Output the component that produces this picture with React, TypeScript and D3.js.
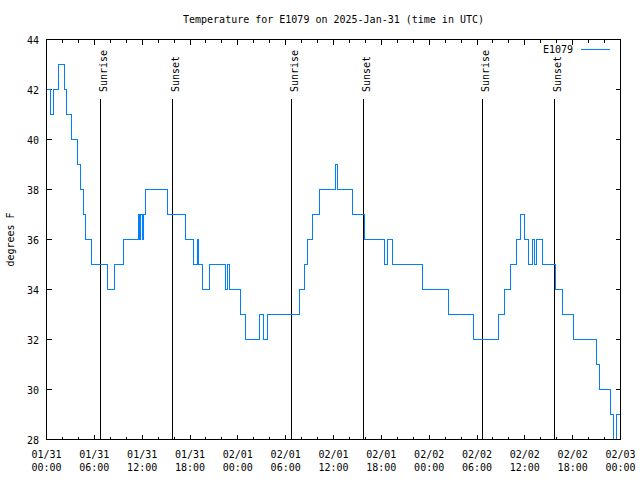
import React from "react";
import * as d3 from "d3";

// hours since 2025-01-31 00:00 UTC and temperature (°F), step data
const hours = [
  0, 0.54, 0.83, 1.53, 2.32, 2.57, 3.11, 3.86, 4.24, 4.64, 4.93, 5.64, 7.65,
  8.59, 9.6, 11.55, 11.7, 11.85, 12.0, 12.2, 12.4, 15.15, 17.4, 18.4, 18.9,
  19.03, 19.6, 20.4, 22.5, 22.75, 22.95, 24.35, 25.0, 26.67, 27.2, 27.7, 31.7,
  32.4, 32.77, 33.4, 34.2, 36.2, 36.45, 38.36, 39.86, 42.4, 42.76, 43.4, 47.15,
  50.46, 53.6, 56.7, 57.5, 58.2, 58.98, 59.5, 60.0, 60.5, 60.9, 61.2, 61.45,
  62.24, 63.86, 64.7, 66.05, 68.95, 69.37, 70.7, 71.17, 71.46, 72,
];
const temps = [
  42, 41, 42, 43, 42, 41, 40, 39, 38, 37, 36, 35, 34,
  35, 36, 37, 36, 37, 36, 37, 38, 37, 36, 35, 36,
  35, 34, 35, 34, 35, 34, 33, 32, 33, 32, 33, 34,
  35, 36, 37, 38, 39, 38, 37, 36, 35, 36, 35, 34,
  33, 32, 33, 34, 35, 36, 37, 36, 35, 36, 35, 36,
  35, 34, 33, 32, 31, 30, 29, 28, 29, 29,
];
const sunHours = [6.78, 15.78, 30.7, 39.72, 54.66, 63.74];
const sunLabels = ["Sunrise", "Sunset", "Sunrise", "Sunset", "Sunrise", "Sunset"];
const yTicks = [28, 30, 32, 34, 36, 38, 40, 42, 44];
const seriesName = "E1079";
const title = "Temperature for E1079 on 2025-Jan-31 (time in UTC)";
const yLabel = "degrees F";

const T0 = Date.UTC(2025, 0, 31);
const HOUR = 3600 * 1000;

export default function App() {
  const W = 640, H = 480;
  const L = 46.5, R = 620.5, T = 39.5, B = 439.5;
  const x = d3.scaleUtc().domain([new Date(T0), new Date(T0 + 72 * HOUR)]).range([L, R]);
  const y = d3.scaleLinear().domain([28, 44]).range([B, T]);
  const data = hours.map((h, i) => ({ t: new Date(T0 + h * HOUR), v: temps[i] }));
  const line = d3
    .line<{ t: Date; v: number }>()
    .x((d) => x(d.t))
    .y((d) => y(d.v))
    .curve(d3.curveStepAfter);
  const major = x.ticks(d3.utcHour.every(6)!);
  const minor = x.ticks(d3.utcHour.every(2)!).filter((d) => d.getUTCHours() % 6 !== 0);
  const fmtD = d3.utcFormat("%m/%d");
  const fmtT = d3.utcFormat("%H:%M");
  const font = "DejaVu Sans Mono";
  const snap = (v: number) => Math.round(v - 0.5) + 0.5;

  return (
    <svg
      width={W}
      height={H}
      style={{ position: "absolute", left: 0, top: 0, background: "#fff" }}
      fontFamily={font}
      fontSize={10}
    >
      <rect x={0} y={0} width={W} height={H} fill="#fff" />
      <text x={(L + R) / 2} y={23} textAnchor="middle">{title}</text>
      <text transform={`translate(14,${(T + B) / 2}) rotate(-90)`} textAnchor="middle">{yLabel}</text>
      <g stroke="#000" strokeWidth={1} shapeRendering="crispEdges">
        {yTicks.map((v) => (
          <g key={v}>
            <line x1={L} x2={L + 5} y1={snap(y(v))} y2={snap(y(v))} />
            <line x1={R} x2={R - 5} y1={snap(y(v))} y2={snap(y(v))} />
          </g>
        ))}
        {major.map((d, i) => (
          <g key={"M" + i}>
            <line x1={snap(x(d))} x2={snap(x(d))} y1={B} y2={B - 5} />
            <line x1={snap(x(d))} x2={snap(x(d))} y1={T} y2={T + 5} />
          </g>
        ))}
        {minor.map((d, i) => (
          <g key={"m" + i}>
            <line x1={snap(x(d))} x2={snap(x(d))} y1={B} y2={B - 3} />
            <line x1={snap(x(d))} x2={snap(x(d))} y1={T} y2={T + 3} />
          </g>
        ))}
      </g>
      {yTicks.map((v) => (
        <text key={v} x={39} y={y(v) + 4} textAnchor="end">{v}</text>
      ))}
      {major.map((d, i) => (
        <g key={"l" + i}>
          <text x={x(d)} y={458} textAnchor="middle">{fmtD(d)}</text>
          <text x={x(d)} y={471} textAnchor="middle">{fmtT(d)}</text>
        </g>
      ))}
      {sunHours.map((h, i) => {
        const sx = snap(x(new Date(T0 + h * HOUR)));
        return (
          <g key={"s" + i}>
            <line x1={sx} x2={sx} y1={99} y2={B} stroke="#000" shapeRendering="crispEdges" />
            <text transform={`translate(${sx + 6},92) rotate(-90)`} textAnchor="start">{sunLabels[i]}</text>
          </g>
        );
      })}
      <path d={line(data) || ""} fill="none" stroke="#0080ff" strokeWidth={1} shapeRendering="crispEdges" />
      <rect x={L} y={T} width={R - L} height={B - T} fill="none" stroke="#000" shapeRendering="crispEdges" />
      <text x={573} y={53} textAnchor="end">{seriesName}</text>
      <line x1={581} x2={610} y1={49.5} y2={49.5} stroke="#0080ff" shapeRendering="crispEdges" />
    </svg>
  );
}
